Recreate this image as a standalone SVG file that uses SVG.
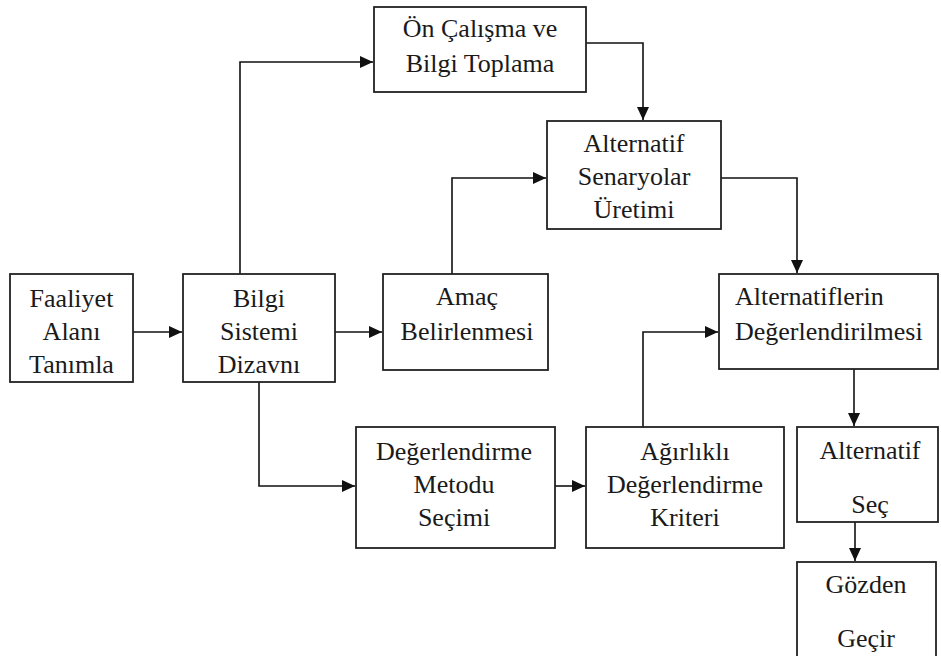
<svg xmlns="http://www.w3.org/2000/svg" width="941" height="656" viewBox="0 0 941 656">
<style>
.box{fill:#fff;stroke:#222;stroke-width:1.8}
.t{font-family:'Liberation Serif','Times New Roman',serif;font-size:26px;fill:#1a1a1a;text-anchor:middle}
.l{text-anchor:start}
.c{fill:none;stroke:#111;stroke-width:1.6;marker-end:url(#ah)}
</style>
<defs>
<marker id="ah" markerUnits="userSpaceOnUse" markerWidth="14" markerHeight="12" refX="13" refY="6" orient="auto">
<path d="M0,0 L13,6 L0,12 Z" fill="#111"/>
</marker>
</defs>
<rect width="941" height="656" fill="#fff"/>
<g id="connectors">
<path class="c" d="M133,332 H182"/>
<path class="c" d="M240,274 V62 H373"/>
<path class="c" d="M586,43 H643 V120"/>
<path class="c" d="M335,332 H382"/>
<path class="c" d="M452,274 V178 H546"/>
<path class="c" d="M721,178 H797 V273"/>
<path class="c" d="M259,382 V486 H355"/>
<path class="c" d="M555,486 H585"/>
<path class="c" d="M643,427 V332 H718"/>
<path class="c" d="M854,369 V426"/>
<path class="c" d="M855,522 V561"/>
</g>
<g id="faaliyet">
<rect class="box" x="10" y="274" width="123" height="108"/>
<text class="t" x="71.5" y="307">Faaliyet</text>
<text class="t" x="71.5" y="340">Alanı</text>
<text class="t" x="71.5" y="373">Tanımla</text>
</g>
<g id="bilgi-sistemi">
<rect class="box" x="183" y="274" width="152" height="108"/>
<text class="t" x="259" y="307">Bilgi</text>
<text class="t" x="259" y="340">Sistemi</text>
<text class="t" x="259" y="373">Dizavnı</text>
</g>
<g id="on-calisma">
<rect class="box" x="374" y="7" width="212" height="85"/>
<text class="t" x="480" y="37">Ön Çalışma ve</text>
<text class="t" x="480" y="72">Bilgi Toplama</text>
</g>
<g id="alternatif-senaryolar">
<rect class="box" x="547" y="121" width="174" height="108"/>
<text class="t" x="634" y="152">Alternatif</text>
<text class="t" x="634" y="185">Senaryolar</text>
<text class="t" x="634" y="218">Üretimi</text>
</g>
<g id="amac">
<rect class="box" x="383" y="274" width="165" height="96"/>
<text class="t" x="467" y="305">Amaç</text>
<text class="t" x="467" y="340">Belirlenmesi</text>
</g>
<g id="alternatiflerin-degerlendirilmesi">
<rect class="box" x="719" y="274" width="219" height="95"/>
<text class="t l" x="735" y="305">Alternatiflerin</text>
<text class="t l" x="735" y="340">Değerlendirilmesi</text>
</g>
<g id="degerlendirme-metodu">
<rect class="box" x="356" y="427" width="199" height="121"/>
<text class="t" x="454" y="460">Değerlendirme</text>
<text class="t" x="454" y="493">Metodu</text>
<text class="t" x="454" y="526">Seçimi</text>
</g>
<g id="agirlikli">
<rect class="box" x="586" y="427" width="198" height="121"/>
<text class="t" x="685" y="460">Ağırlıklı</text>
<text class="t" x="685" y="493">Değerlendirme</text>
<text class="t" x="685" y="526">Kriteri</text>
</g>
<g id="alternatif-sec">
<rect class="box" x="797" y="427" width="141" height="95"/>
<text class="t" x="870" y="459">Alternatif</text>
<text class="t" x="870" y="513">Seç</text>
</g>
<g id="gozden-gecir">
<rect class="box" x="797" y="562" width="139" height="100"/>
<text class="t" x="866" y="593">Gözden</text>
<text class="t" x="866" y="647">Geçir</text>
</g>
</svg>
